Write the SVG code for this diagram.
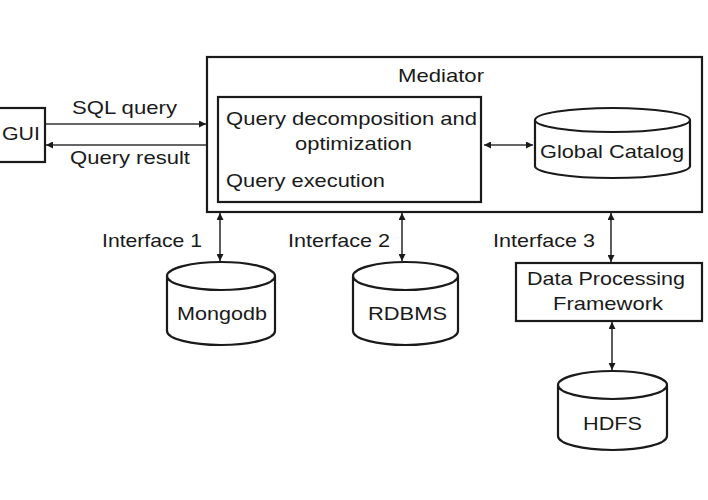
<svg xmlns="http://www.w3.org/2000/svg" width="708" height="500" viewBox="0 0 708 500">
<style>
.box{fill:#fff;stroke:#1a1a1a;stroke-width:2.2}
.cyl{fill:#fff;stroke:#1a1a1a;stroke-width:2.2}
.t{font-family:"Liberation Sans",Arial,sans-serif;font-size:19px;fill:#1a1a1a}
.c{stroke:#333;stroke-width:1.6;fill:none;marker-end:url(#ah)}
.d{stroke:#333;stroke-width:1.6;fill:none;marker-start:url(#ahs);marker-end:url(#ah)}
</style>
<defs>
<marker id="ah" viewBox="0 0 10 10" refX="10" refY="5" markerWidth="7" markerHeight="7" markerUnits="userSpaceOnUse" orient="auto"><path d="M0,0 L10,5 L0,10 z" fill="#1a1a1a"/></marker>
<marker id="ahs" viewBox="0 0 10 10" refX="0" refY="5" markerWidth="7" markerHeight="7" markerUnits="userSpaceOnUse" orient="auto"><path d="M10,0 L0,5 L10,10 z" fill="#1a1a1a"/></marker>
</defs>
<rect width="708" height="500" fill="#fff"/>
<g id="gui"><rect class="box" x="-2" y="108" width="47" height="54"/><text class="t" x="2" y="140" textLength="38" lengthAdjust="spacingAndGlyphs">GUI</text></g>
<g id="mediator"><rect class="box" x="207" y="57" width="495" height="155"/><text class="t" x="398" y="82" textLength="86" lengthAdjust="spacingAndGlyphs">Mediator</text></g>
<g id="query"><rect class="box" x="218" y="97" width="263" height="105"/>
<text class="t" x="226" y="125" textLength="251" lengthAdjust="spacingAndGlyphs">Query decomposition and</text>
<text class="t" x="295" y="150" textLength="117" lengthAdjust="spacingAndGlyphs">optimization</text>
<text class="t" x="226" y="187" textLength="159" lengthAdjust="spacingAndGlyphs">Query execution</text></g>
<g id="catalog"><path class="cyl" d="M535,120 L535,166 A77.5,12 0 0 0 690,166 L690,120 A77.5,12 0 0 0 535,120 A77.5,12 0 0 0 690,120"/><text class="t" x="540" y="158" textLength="144" lengthAdjust="spacingAndGlyphs">Global Catalog</text></g>
<g id="mongodb"><path class="cyl" d="M167,276 L167,331 A54,14 0 0 0 275,331 L275,276 A54,14 0 0 0 167,276 A54,14 0 0 0 275,276"/><text class="t" x="177" y="320" textLength="90" lengthAdjust="spacingAndGlyphs">Mongodb</text></g>
<g id="rdbms"><path class="cyl" d="M353,276 L353,331 A52.5,14 0 0 0 458,331 L458,276 A52.5,14 0 0 0 353,276 A52.5,14 0 0 0 458,276"/><text class="t" x="368" y="320" textLength="79" lengthAdjust="spacingAndGlyphs">RDBMS</text></g>
<g id="dpf"><rect class="box" x="516" y="263" width="186" height="58"/><text class="t" x="527" y="285" textLength="158" lengthAdjust="spacingAndGlyphs">Data Processing</text><text class="t" x="553" y="310" textLength="110" lengthAdjust="spacingAndGlyphs">Framework</text></g>
<g id="hdfs"><path class="cyl" d="M558,385 L558,436 A54.5,14 0 0 0 667,436 L667,385 A54.5,14 0 0 0 558,385 A54.5,14 0 0 0 667,385"/><text class="t" x="583" y="430" textLength="59" lengthAdjust="spacingAndGlyphs">HDFS</text></g>
<g id="connectors">
<line class="c" x1="46" y1="124" x2="206" y2="124"/>
<line class="c" x1="206" y1="145" x2="46" y2="145"/>
<line class="d" x1="484" y1="145" x2="533" y2="145"/>
<line class="d" x1="220" y1="213" x2="220" y2="261"/>
<line class="d" x1="402" y1="213" x2="402" y2="261"/>
<line class="d" x1="611" y1="213" x2="611" y2="262"/>
<line class="d" x1="612" y1="322" x2="612" y2="370"/>
<text class="t" x="72" y="114" textLength="105" lengthAdjust="spacingAndGlyphs">SQL query</text>
<text class="t" x="70" y="164" textLength="120" lengthAdjust="spacingAndGlyphs">Query result</text>
<text class="t" x="102" y="247" textLength="100" lengthAdjust="spacingAndGlyphs">Interface 1</text>
<text class="t" x="288" y="247" textLength="102" lengthAdjust="spacingAndGlyphs">Interface 2</text>
<text class="t" x="493" y="247" textLength="102" lengthAdjust="spacingAndGlyphs">Interface 3</text>
</g>
</svg>
